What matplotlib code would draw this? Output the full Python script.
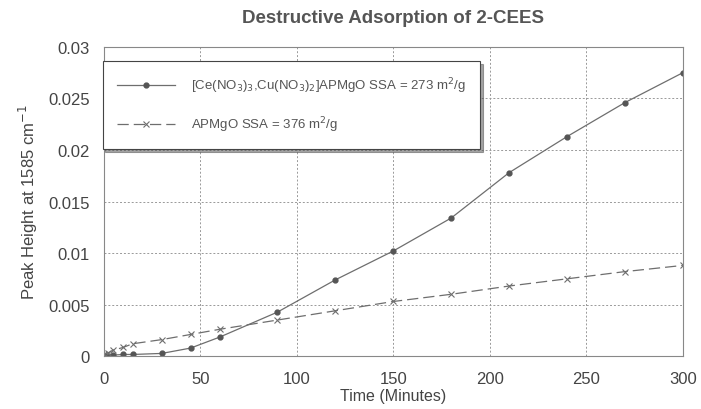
import matplotlib
matplotlib.use("Agg")
import matplotlib.pyplot as plt
from matplotlib.ticker import FixedLocator

plt.rcParams['font.family'] = ['Liberation Sans', 'DejaVu Sans']

time_a = [0, 2, 5, 10, 15, 30, 45, 60, 90, 120, 150, 180, 210, 240, 270, 300]
peak_a = [0.0, 0.00003, 0.0001, 0.00016, 0.00016, 0.00026, 0.00078, 0.00184, 0.00427,
          0.0074, 0.0102, 0.0134, 0.0178, 0.0213, 0.0246, 0.0275]
time_b = [0, 2, 5, 10, 15, 30, 45, 60, 90, 120, 150, 180, 210, 240, 270, 300]
peak_b = [0.0002, 0.0003, 0.00058, 0.00084, 0.0012, 0.0016, 0.0021, 0.0026, 0.0035,
          0.0044, 0.0053, 0.0060, 0.0068, 0.0075, 0.0082, 0.0088]
label_a = r"[Ce(NO$_{3}$)$_{3}$,Cu(NO$_{3}$)$_{2}$]APMgO SSA = 273 m$^{2}$/g"
label_b = r"APMgO SSA = 376 m$^{2}$/g"
xticks = [0, 50, 100, 150, 200, 250, 300]
yticks = [0, 0.005, 0.01, 0.015, 0.02, 0.025, 0.03]
ytick_labels = ["0", "0.005", "0.01", "0.015", "0.02", "0.025", "0.03"]

fig = plt.figure(figsize=(7.01, 4.10), dpi=100)
ax = fig.add_axes([0.148, 0.129, 0.826, 0.754])
gray = "#6e6e6e"
ax.plot(time_a, peak_a, color=gray, lw=0.9, marker='o', ms=3.5, mfc="#555555", mec="#555555", label=label_a)
ax.plot(time_b, peak_b, color=gray, lw=0.9, dashes=(9, 4), marker='x', ms=4, mew=0.8, label=label_b)

ax.set_xlim(0, 300)
ax.set_ylim(0, 0.03)
ax.xaxis.set_major_locator(FixedLocator(xticks))
ax.set_yticks(yticks)
ax.set_yticklabels(ytick_labels)
ax.grid(True, color="#999999", ls=(0, (2, 2)), lw=0.7)
ax.tick_params(labelsize=12, colors="#444444", length=0)
ax.tick_params(axis='x', pad=11)
ax.tick_params(axis='y', pad=10)
for s in ax.spines.values():
    s.set_color("#888888")
    s.set_linewidth(0.8)

ax.set_title("Destructive Adsorption of 2-CEES", fontsize=13.5, fontweight='bold', color="#555555", pad=18)
ax.set_xlabel("Time (Minutes)", fontsize=11.5, color="#444444", labelpad=1)
ax.set_ylabel(r"Peak Height at 1585 cm$^{-1}$", fontsize=12, color="#444444", labelpad=6)

leg = ax.legend(loc='upper left', bbox_to_anchor=(-0.002, 0.955), frameon=True, fancybox=False,
                shadow=True, fontsize=9.5, borderpad=1.1, labelspacing=1.5, handlelength=4.4,
                handletextpad=1.2, edgecolor="#444444", borderaxespad=0)
for t in leg.get_texts():
    t.set_color("#555555")
leg.get_frame().set_linewidth(0.8)

fig.savefig("out.png", dpi=100, facecolor="white")
